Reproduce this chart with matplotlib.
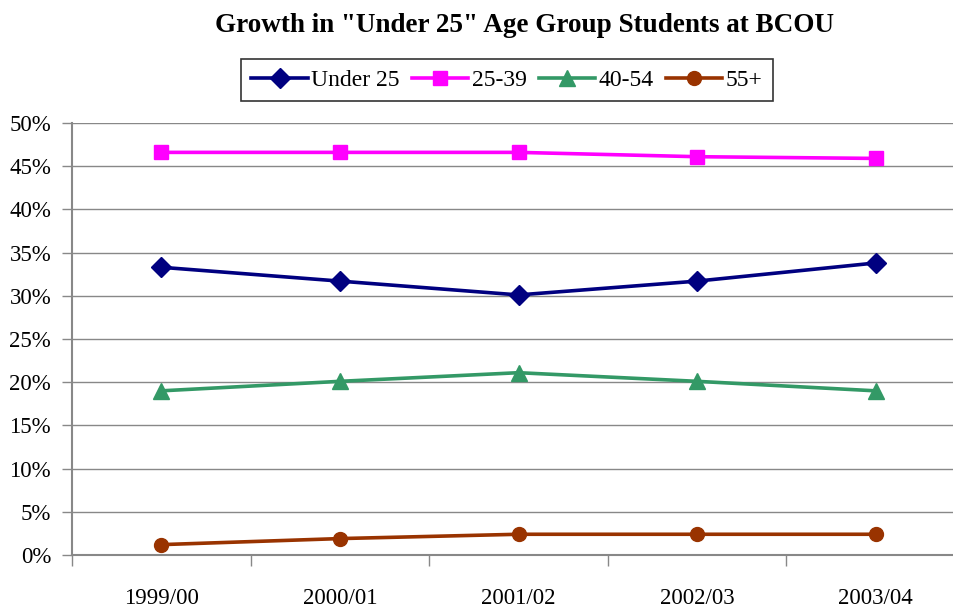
import matplotlib.pyplot as plt
from matplotlib.ticker import FixedLocator, PercentFormatter

years = ['1999/00', '2000/01', '2001/02', '2002/03', '2003/04']
under_25 = [33.3, 31.7, 30.1, 31.7, 33.8]
age_25_39 = [46.6, 46.6, 46.6, 46.1, 45.9]
age_40_54 = [19.0, 20.1, 21.1, 20.1, 19.0]
age_55_plus = [1.2, 1.9, 2.4, 2.4, 2.4]

plt.rcParams['font.family'] = ['Liberation Serif', 'DejaVu Serif']

fig = plt.figure(figsize=(9.54, 6.11), dpi=100)
ax = fig.add_axes([72 / 954, 56 / 611, 893 / 954, 432 / 611])

x = range(len(years))
ax.plot(x, under_25, color='#000080', lw=2.6, marker='D', ms=10, label='Under 25')
ax.plot(x, age_25_39, color='#FF00FF', lw=2.6, marker='s', ms=10, label='25-39')
ax.plot(x, age_40_54, color='#339966', lw=2.6, marker='^', ms=11, label='40-54')
ax.plot(x, age_55_plus, color='#993300', lw=2.6, marker='o', ms=10, label='55+')

ax.set_xlim(-0.5, len(years) - 0.5)
ax.set_ylim(0, 50)
ax.set_yticks(range(0, 51, 5))
ax.yaxis.set_major_formatter(PercentFormatter(decimals=0))
ax.grid(axis='y', color='#888888', lw=1)
ax.set_axisbelow(True)

ax.set_xticks(list(x))
ax.set_xticklabels(years)
ax.xaxis.set_minor_locator(FixedLocator([i - 0.5 for i in range(len(years) + 1)]))
ax.tick_params(axis='x', which='major', length=0, pad=24, labelsize=16.5)
ax.tick_params(axis='x', which='minor', length=8, color='#888888', width=1)
ax.tick_params(axis='y', length=7, color='#888888', width=1, labelsize=16.5, pad=8)

for side in ['top', 'right']:
    ax.spines[side].set_visible(False)
for side in ['left', 'bottom']:
    ax.spines[side].set_color('#888888')
    ax.spines[side].set_linewidth(1.5)

fig.suptitle('Growth in "Under 25" Age Group Students at BCOU', x=525 / 954, y=0.978,
             fontsize=19.5, fontweight='bold')

leg = fig.legend(loc='center', bbox_to_anchor=(507 / 954, 1 - 80 / 611), ncol=4,
                 fontsize=17, frameon=True, fancybox=False, edgecolor='black',
                 handlelength=2.4, handletextpad=0.15, columnspacing=0.5,
                 borderpad=0.45)
leg.get_frame().set_linewidth(1.2)

plt.savefig('out.png', dpi=100)
